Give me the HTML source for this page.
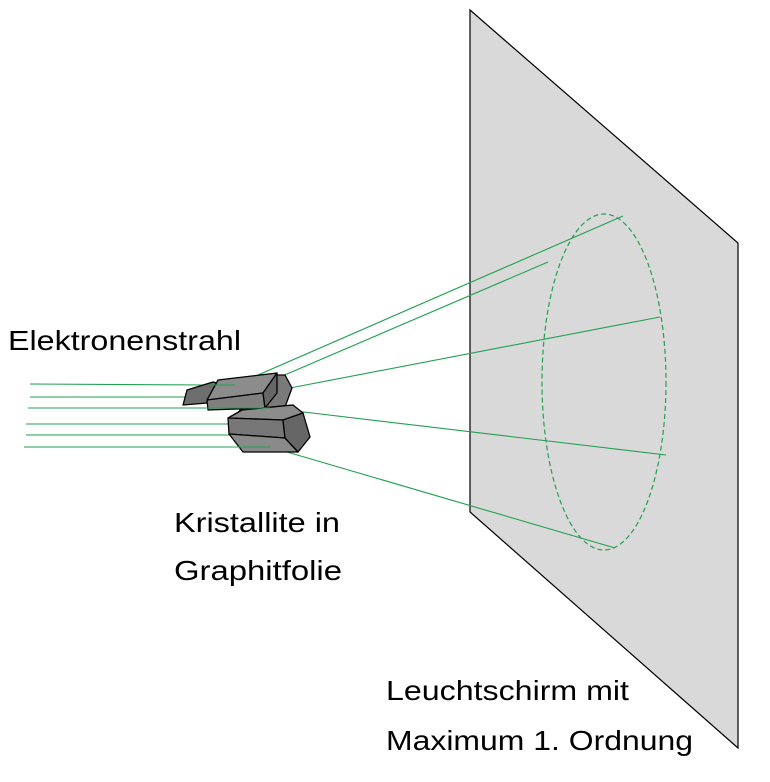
<!DOCTYPE html>
<html><head><meta charset="utf-8"><style>html,body{margin:0;padding:0;background:#fff}svg{display:block}</style></head>
<body>
<svg width="770" height="782" viewBox="0 0 770 782" xmlns="http://www.w3.org/2000/svg" font-family="Liberation Sans, sans-serif" font-size="28">
<polygon points="470,10 738,243 738,748 470,512" fill="#d9d9d9" stroke="#000" stroke-width="1.2"/>
<ellipse cx="604" cy="382" rx="62" ry="168" fill="none" stroke="#22a050" stroke-width="1.2" stroke-dasharray="5,3"/>
<g stroke="#22a050" stroke-width="1.1" fill="none">
<line x1="30" y1="384" x2="210" y2="385"/>
<line x1="30" y1="397" x2="200" y2="397"/>
<line x1="28" y1="408" x2="270" y2="408"/>
<line x1="26" y1="424" x2="235" y2="424"/>
<line x1="26" y1="435" x2="235" y2="435"/>
<line x1="24" y1="447" x2="270" y2="447"/>
<line x1="235" y1="385" x2="623" y2="216"/>
<line x1="245" y1="392" x2="548" y2="262"/>
<line x1="290" y1="388" x2="660" y2="317"/>
<line x1="270" y1="408" x2="666" y2="455"/>
<line x1="270" y1="447" x2="615" y2="548"/>
</g>
<g stroke="#000" stroke-width="1.3" stroke-linejoin="round">
<polygon points="187,390 213,382 217,383 207,403 183,405" fill="#6e6e6e"/>
<polygon points="277,375 285,375 292,388 285,407 265,408" fill="#7a7a7a"/>
<polygon points="240,410 293,405 300,415 285,420 235,418" fill="#8a8a8a"/>
<polygon points="207,400 218,380 277,373 263,393" fill="#8c8c8c"/>
<polygon points="207,400 263,393 265,408 208,410" fill="#808080"/>
<polygon points="263,393 277,373 277,393 265,408" fill="#666"/>
<polygon points="228,418 242,410 293,405 303,413 283,420" fill="#8c8c8c"/>
<polygon points="228,418 283,420 285,438 229,434" fill="#777"/>
<polygon points="229,434 285,438 298,452 243,452" fill="#8a8a8a"/>
<polygon points="283,420 303,413 310,437 298,452 285,438" fill="#666"/>
</g>
<g stroke="#22a050" stroke-width="1.1">
<line x1="210" y1="385" x2="235" y2="385"/>
<line x1="200" y1="408" x2="270" y2="408"/>
<line x1="235" y1="447" x2="270" y2="447"/>
</g>
<g fill="#000">
<text x="8" y="350" textLength="233" lengthAdjust="spacingAndGlyphs">Elektronenstrahl</text>
<text x="174" y="532" textLength="166" lengthAdjust="spacingAndGlyphs">Kristallite in</text>
<text x="174" y="580" textLength="168" lengthAdjust="spacingAndGlyphs">Graphitfolie</text>
<text x="386" y="700" textLength="243" lengthAdjust="spacingAndGlyphs">Leuchtschirm mit</text>
<text x="386" y="750" textLength="307" lengthAdjust="spacingAndGlyphs">Maximum 1. Ordnung</text>
</g>
</svg>
</body></html>
